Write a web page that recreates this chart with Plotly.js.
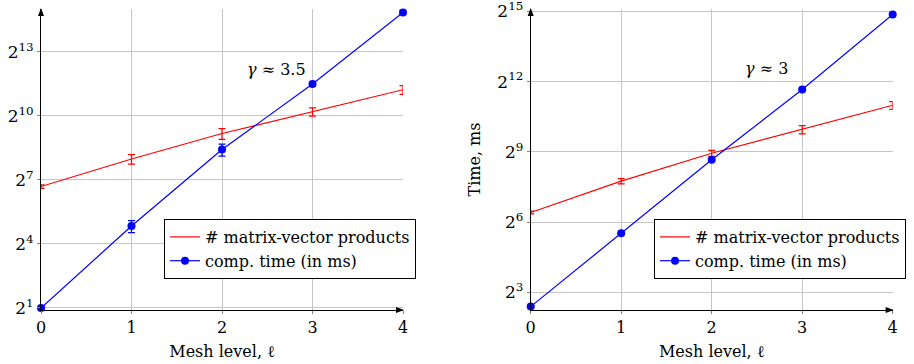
<!DOCTYPE html>
<html>
<head>
<meta charset="utf-8">
<script src="https://cdn.plot.ly/plotly-3.0.1.min.js"></script>
<style>html,body{margin:0;padding:0;background:#fff;}#chart{width:914px;height:364px;}</style>
</head>
<body>
<div id="chart"></div>
<script>
// Mesh levels
const levels = [0, 1, 2, 3, 4];

// Left panel
const leftMatvec    = [103, 252, 576, 1168, 2385];
const leftMatvecErr = [6, 39, 100, 155, 335];
const leftTime      = [2, 28.6, 342, 2876, 29330];
const leftTimeErr   = [0.07, 5.5, 65, 200, 2000];
const leftGamma = '<i>γ</i> ≈ 3.5';

// Right panel
const rightMatvec    = [85, 215, 491, 989, 2034];
const rightMatvecErr = [3.5, 17, 42, 120, 230];
const rightTime      = [5.24, 45.9, 405, 3236, 29950];
const rightTimeErr   = [0.15, 1.0, 9, 70, 1500];
const rightGamma = '<i>γ</i> ≈ 3';

// Tick labels
const leftTickVals  = [2, 16, 128, 1024, 8192];
const leftTickText  = ['2<sup>1</sup>', '2<sup>4</sup>', '2<sup>7</sup>', '2<sup>10</sup>', '2<sup>13</sup>'];
const rightTickVals = [8, 64, 512, 4096, 32768];
const rightTickText = ['2<sup>3</sup>', '2<sup>6</sup>', '2<sup>9</sup>', '2<sup>12</sup>', '2<sup>15</sup>'];
const xTickVals = [0, 1, 2, 3, 4];

const seriesNames = ['# matrix-vector products', 'comp. time (in ms)'];
const xTitle = 'Mesh level, ℓ';
const yTitleRight = 'Time, ms';

const FONT = 'DejaVu Serif, serif';
const RED = '#ff0000', BLUE = '#0000ff';

function matvecTrace(y, err, xa, ya, leg) {
  return {
    x: levels, y: y, xaxis: xa, yaxis: ya, legend: leg,
    type: 'scatter', mode: 'lines', name: seriesNames[0],
    line: {color: RED, width: 1.2},
    error_y: {type: 'data', array: err, visible: true, color: RED, thickness: 1.2, width: 3.5},
    cliponaxis: false
  };
}
function timeTrace(y, err, xa, ya, leg) {
  return {
    x: levels, y: y, xaxis: xa, yaxis: ya, legend: leg,
    type: 'scatter', mode: 'lines+markers', name: seriesNames[1],
    line: {color: BLUE, width: 1.2},
    marker: {color: BLUE, size: 8, symbol: 'circle'},
    error_y: {type: 'data', array: err, visible: true, color: BLUE, thickness: 1.2, width: 3.5},
    cliponaxis: false
  };
}

const data = [
  matvecTrace(leftMatvec, leftMatvecErr, 'x', 'y', 'legend'),
  timeTrace(leftTime, leftTimeErr, 'x', 'y', 'legend'),
  matvecTrace(rightMatvec, rightMatvecErr, 'x2', 'y2', 'legend2'),
  timeTrace(rightTime, rightTimeErr, 'x2', 'y2', 'legend2')
];

const W = 914, H = 364;
const yDom = [(H - 310) / H, (H - 9) / H];
const xDomL = [41 / W, 403 / W];
const xDomR = [530.7 / W, 892.7 / W];

function xAxis(dom, anchor) {
  return {
    domain: dom, anchor: anchor, range: [0, 4], type: 'linear',
    tickvals: xTickVals, ticktext: xTickVals.map(String),
    showgrid: true, gridcolor: '#c6c6c6', gridwidth: 1,
    zeroline: false, showline: true, linecolor: '#000', linewidth: 1,
    ticks: 'outside', ticklen: 3, tickcolor: '#888',
    tickfont: {family: FONT, size: 16, color: '#000'},
    title: {text: xTitle, font: {family: FONT, size: 16, color: '#000'}, standoff: 9}
  };
}
function yAxis(dom, anchor, rng, tv, tt, title) {
  const a = {
    domain: dom, anchor: anchor, type: 'log', range: rng,
    tickvals: tv, ticktext: tt, ticklabeloverflow: 'allow',
    showgrid: true, gridcolor: '#c6c6c6', gridwidth: 1,
    zeroline: false, showline: true, linecolor: '#000', linewidth: 1,
    ticks: 'outside', ticklen: 3, tickcolor: '#888',
    tickfont: {family: FONT, size: 17, color: '#000'}
  };
  if (title) a.title = {text: title, font: {family: FONT, size: 16, color: '#000'}, standoff: 12};
  return a;
}

const L2 = Math.log10(2);

// arrowhead triangles at axis ends (paper coordinates)
function arrowUp(xp, yp) {
  const dx = 3 / W, dy = 7 / H;
  return {type: 'path', xref: 'paper', yref: 'paper', fillcolor: '#000', line: {width: 0},
    path: `M ${xp} ${yp + 1 / H} L ${xp - dx} ${yp - dy} L ${xp + dx} ${yp - dy} Z`};
}
function arrowRight(xp, yp) {
  const dx = 7 / W, dy = 3 / H;
  return {type: 'path', xref: 'paper', yref: 'paper', fillcolor: '#000', line: {width: 0},
    path: `M ${xp + 1 / W} ${yp} L ${xp - dx} ${yp + dy} L ${xp - dx} ${yp - dy} Z`};
}

const layout = {
  width: W, height: H, autosize: false,
  margin: {l: 0, r: 0, t: 0, b: 0},
  paper_bgcolor: '#fff', plot_bgcolor: '#fff',
  font: {family: FONT, size: 16, color: '#000'},
  xaxis: xAxis(xDomL, 'y'),
  yaxis: yAxis(yDom, 'x', [0.906 * L2, 15.0 * L2], leftTickVals, leftTickText, null),
  xaxis2: xAxis(xDomR, 'y2'),
  yaxis2: yAxis(yDom, 'x2', [2.245 * L2, 15.1 * L2], rightTickVals, rightTickText, yTitleRight),
  showlegend: true,
  legend: {x: 164 / W, y: (H - 219) / H, xanchor: 'left', yanchor: 'top',
    bgcolor: '#fff', bordercolor: '#000', borderwidth: 1,
    font: {family: FONT, size: 16, color: '#000'}, tracegroupgap: 0, itemwidth: 30},
  legend2: {x: 654 / W, y: (H - 219) / H, xanchor: 'left', yanchor: 'top',
    bgcolor: '#fff', bordercolor: '#000', borderwidth: 1,
    font: {family: FONT, size: 16, color: '#000'}, tracegroupgap: 0, itemwidth: 30},
  annotations: [
    {xref: 'x', yref: 'y', x: 2.6, y: 12.16 * L2, text: leftGamma, showarrow: false,
     font: {family: FONT, size: 16, color: '#000'}},
    {xref: 'x2', yref: 'y2', x: 2.6, y: 12.57 * L2, text: rightGamma, showarrow: false,
     font: {family: FONT, size: 16, color: '#000'}}
  ],
  shapes: [
    arrowUp(xDomL[0], yDom[1]), arrowRight(xDomL[1], yDom[0]),
    arrowUp(xDomR[0], yDom[1]), arrowRight(xDomR[1], yDom[0])
  ]
};

Plotly.newPlot('chart', data, layout, {displayModeBar: false, staticPlot: true});
</script>
</body>
</html>
